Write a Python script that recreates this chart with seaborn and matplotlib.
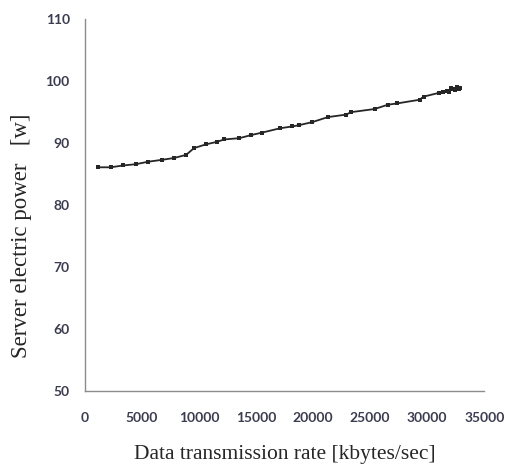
import pandas as pd
import matplotlib.pyplot as plt
import seaborn as sns

# values
rate = [1100, 2250, 3360, 4470, 5530, 6730, 7800, 8860, 9560, 10600, 11550, 12220,
        13540, 14560, 15530, 17100, 18190, 18770, 19940, 21290, 22890, 23330, 25380,
        26550, 27340, 29330, 29680, 31000, 31400, 31730, 31900, 32100, 32280, 32450,
        32600, 32750, 32890]
power = [86.1, 86.1, 86.4, 86.6, 87.0, 87.3, 87.6, 88.1, 89.2, 89.8, 90.2, 90.6,
         90.8, 91.3, 91.7, 92.4, 92.7, 92.9, 93.4, 94.2, 94.6, 95.0, 95.5,
         96.2, 96.4, 97.0, 97.5, 98.1, 98.3, 98.4, 98.2, 98.9, 98.8, 98.5,
         99.0, 98.7, 98.9]

df = pd.DataFrame({'rate': rate, 'power': power})

sns.set_style('white')
plt.rcParams['font.family'] = ['Lato', 'DejaVu Sans']

fig = plt.figure(figsize=(5.06, 4.68), dpi=100)
ax = fig.add_axes([0.168, 0.1645, 0.789, 0.7945])

sns.lineplot(x='rate', y='power', data=df, ax=ax, color='#262626', linewidth=1.3,
             marker='s', markersize=2.2, markeredgewidth=0, estimator=None, sort=True)

ax.set_xlim(0, 35000)
ax.set_ylim(50, 110)
ax.set_xticks(range(0, 35001, 5000))
ax.set_yticks(range(50, 111, 10))

for s in ['top', 'right']:
    ax.spines[s].set_visible(False)
for s in ['left', 'bottom']:
    ax.spines[s].set_color('#8c8c8c')
    ax.spines[s].set_linewidth(1.0)

ax.tick_params(axis='both', which='both', direction='out', length=4, width=1,
               color='#8c8c8c', labelsize=10, labelcolor='#3c3c50')
ax.tick_params(axis='x', pad=11)
ax.tick_params(axis='y', pad=7)
for lab in ax.get_xticklabels() + ax.get_yticklabels():
    lab.set_fontweight('bold')

ax.set_xlabel('Data transmission rate [kbytes/sec]', family='Liberation Serif',
              fontsize=15.5)
ax.set_ylabel('Server electric power   [w]', family='Liberation Serif',
              fontsize=16.5)
ax.xaxis.set_label_coords(0.5, -0.145)
ax.yaxis.set_label_coords(-0.133, 0.417)

fig.savefig('out.png', dpi=100)
